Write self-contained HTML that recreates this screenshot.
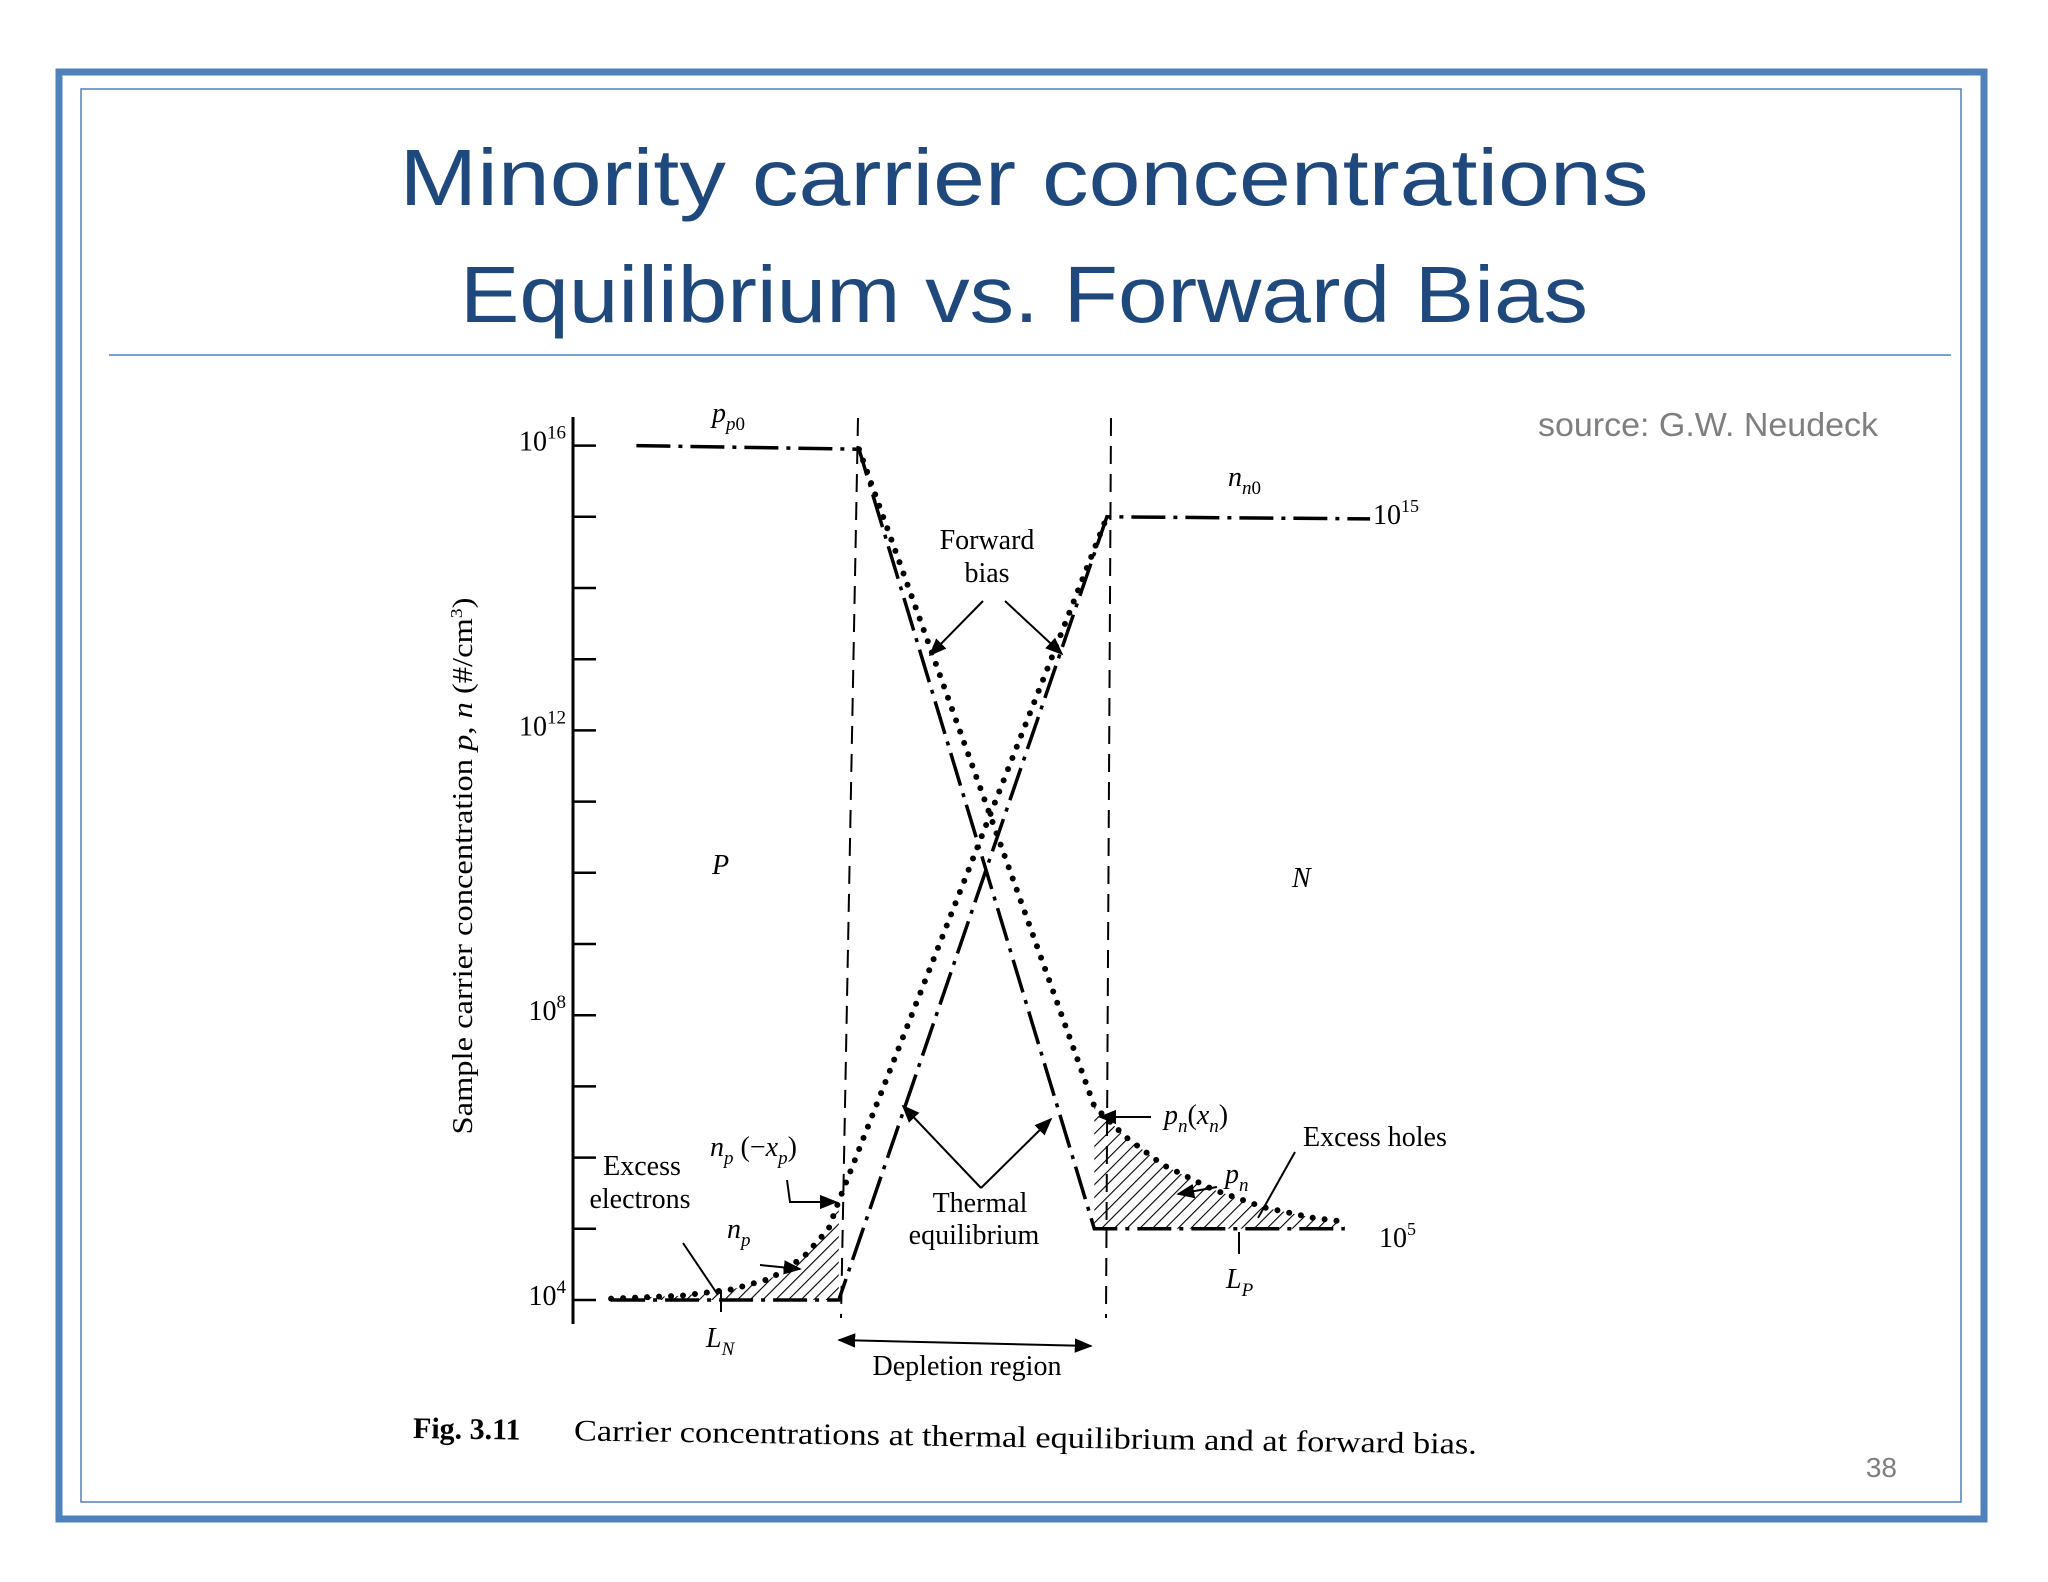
<!DOCTYPE html>
<html><head><meta charset="utf-8">
<style>
html,body{margin:0;padding:0;background:#fff;}
body{width:2048px;height:1582px;position:relative;overflow:hidden;font-family:"Liberation Sans",sans-serif;}
svg{position:absolute;left:0;top:0;}
</style></head>
<body>
<svg width="2048" height="1582" viewBox="0 0 2048 1582">
<defs>
<pattern id="hatch" patternUnits="userSpaceOnUse" width="9" height="9" patternTransform="rotate(45)">
<line x1="0" y1="0" x2="0" y2="9" stroke="#000" stroke-width="2.2"/>
</pattern>
<marker id="ah" viewBox="0 0 10 10" refX="9" refY="5" markerWidth="9" markerHeight="9" orient="auto-start-reverse">
<path d="M0,1 L10,5 L0,9 z" fill="#000"/>
</marker>
</defs>
<rect x="59" y="72" width="1925" height="1447" fill="none" stroke="#4f81bd" stroke-width="7"/>
<rect x="81" y="89" width="1880" height="1413" fill="none" stroke="#4f81bd" stroke-width="1.5"/>
<text x="1024" y="205" text-anchor="middle" font-size="80" fill="#1f497d" textLength="1249" lengthAdjust="spacingAndGlyphs">Minority carrier concentrations</text>
<text x="1024" y="322" text-anchor="middle" font-size="80" fill="#1f497d" textLength="1128" lengthAdjust="spacingAndGlyphs">Equilibrium vs. Forward Bias</text>
<line x1="109" y1="355" x2="1951" y2="355" stroke="#4f81bd" stroke-width="1.5"/>
<text x="1538" y="436" font-size="33" fill="#7f7f7f" textLength="340" lengthAdjust="spacingAndGlyphs">source: G.W. Neudeck</text>
<text x="1897" y="1477" text-anchor="end" font-size="28" fill="#7f7f7f">38</text>
<g id="chart" font-family="'Liberation Serif',serif" fill="#000"></g>
</svg>
<script>
// x positions in units of depletion width (0 = -xp, 1 = xn); values are log10(concentration)
const eqP_x = [-0.88, 0.0, 0.93, 1.92];
const eqP_v = [16, 15.95, 5, 5];
const eqN_x = [-0.98, -0.08, 0.98, 2.02];
const eqN_v = [4, 4, 15, 14.97];
const fbP_x = [0.0, 0.93, 1.05, 1.2, 1.4, 1.6, 1.8, 1.92];
const fbP_v = [15.95, 6.72, 6.3, 5.9, 5.55, 5.3, 5.15, 5.1];
const fbN_x = [-0.98, -0.7, -0.5, -0.35, -0.22, -0.12, -0.08, 0.98];
const fbN_v = [4.02, 4.06, 4.15, 4.3, 4.6, 5.0, 5.39, 15];
const tickDecades = [4,5,6,7,8,9,10,11,12,13,14,15,16];
const tickLabels = [[16,"16"],[12,"12"],[8,"8"],[4,"4"]];

const NS = "http://www.w3.org/2000/svg";
const g = document.getElementById('chart');
const X = u => 859 + u * 253;
const Y = v => 1300 - (v - 4) * 71.2;
function el(tag, attrs, parent) {
  const e = document.createElementNS(NS, tag);
  for (const k in attrs) e.setAttribute(k, attrs[k]);
  (parent || g).appendChild(e);
  return e;
}
function pts(xs, vs) { return xs.map((x, i) => X(x).toFixed(1) + ',' + Y(vs[i]).toFixed(1)).join(' '); }

let a = el('line', {x1: 573, y1: 417, x2: 573, y2: 1324, stroke: '#000', 'stroke-width': 3});


tickDecades.forEach(d => {
  const t = el('line', {x1: 573, y1: Y(d), x2: 596, y2: Y(d), stroke: '#000', 'stroke-width': 2.5});
  
  
});
tickLabels.forEach(([d, s]) => {
  const t = el('text', {x: 566, y: Y(d) + 5, 'text-anchor': 'end', 'font-size': 28});
  
  
  t.innerHTML = '10<tspan dy="-12" font-size="19">' + s + '</tspan>';
});
const yt = el('text', {x: 0, y: 0, 'text-anchor': 'middle', 'font-size': 28, textLength: 537, lengthAdjust: 'spacingAndGlyphs', transform: 'translate(472,866) rotate(-90)'});


yt.innerHTML = 'Sample carrier concentration <tspan font-style="italic">p</tspan>, <tspan font-style="italic">n</tspan> (#/cm<tspan dy="-10" font-size="17">3</tspan><tspan dy="10">)</tspan>';

[0, 1].forEach(u => {
  const l = el('line', {x1: X(u) - 1, y1: 418, x2: X(u) - 18 + u * 12, y2: 1318, stroke: '#000', 'stroke-width': 2, 'stroke-dasharray': '18 10'});
  
  
});

const hL = el('polygon', {points: pts(fbN_x.slice(0, 7), fbN_v.slice(0, 7)) + ' ' + X(-0.08) + ',' + Y(4) + ' ' + X(-0.98) + ',' + Y(4), fill: 'url(#hatch)'});


const hR = el('polygon', {points: pts(fbP_x.slice(1), fbP_v.slice(1)) + ' ' + X(1.92) + ',' + Y(5) + ' ' + X(0.93) + ',' + Y(5), fill: 'url(#hatch)'});



const e1 = el('polyline', {points: pts(eqP_x, eqP_v), fill: 'none', stroke: '#000', 'stroke-width': 3.5, 'stroke-dasharray': '34 8 4 8'});


const e2 = el('polyline', {points: pts(eqN_x, eqN_v), fill: 'none', stroke: '#000', 'stroke-width': 3.5, 'stroke-dasharray': '34 8 4 8'});


const f1 = el('polyline', {points: pts(fbP_x, fbP_v), fill: 'none', stroke: '#000', 'stroke-width': 6, 'stroke-linecap': 'round', 'stroke-dasharray': '0 12'});


const f2 = el('polyline', {points: pts(fbN_x, fbN_v), fill: 'none', stroke: '#000', 'stroke-width': 6, 'stroke-linecap': 'round', 'stroke-dasharray': '0 12'});



function label(x, y, html, name, size, extra) {
  const t = el('text', Object.assign({x: x, y: y, 'font-size': size || 28}, extra || {}));
  
  
  t.innerHTML = html;
  return t;
}
function arrow(x1, y1, x2, y2, name, head) {
  const l = el('line', {x1: x1, y1: y1, x2: x2, y2: y2, stroke: '#000', 'stroke-width': 2});
  if (head !== false) l.setAttribute('marker-end', 'url(#ah)');
  
  
}
label(712, 422, '<tspan font-style="italic">p</tspan><tspan dy="8" font-size="19" font-style="italic">p</tspan><tspan font-size="19">0</tspan>', 'label-pp0');
label(1228, 486, '<tspan font-style="italic">n</tspan><tspan dy="8" font-size="19" font-style="italic">n</tspan><tspan font-size="19">0</tspan>', 'label-nn0');
label(1373, 524, '10<tspan dy="-12" font-size="18">15</tspan>', 'label-1e15');
label(1379, 1247, '10<tspan dy="-12" font-size="18">5</tspan>', 'label-1e5');
label(987, 549, 'Forward', 'label-forward-bias', 28, {'text-anchor': 'middle'});
label(987, 582, 'bias', 'label-forward-bias-2', 28, {'text-anchor': 'middle'});
arrow(983, 601, 930, 655, 'forward-bias-arrow-left');
arrow(1005, 601, 1062, 654, 'forward-bias-arrow-right');
label(712, 874, 'P', 'label-p-region', 28, {'font-style': 'italic'});
label(1292, 887, 'N', 'label-n-region', 28, {'font-style': 'italic'});
label(980, 1212, 'Thermal', 'label-thermal', 28, {'text-anchor': 'middle'});
label(974, 1244, 'equilibrium', 'label-equilibrium', 28, {'text-anchor': 'middle'});
arrow(981, 1188, 903, 1106, 'thermal-arrow-left');
arrow(981, 1188, 1051, 1119, 'thermal-arrow-right');
label(1164, 1124, '<tspan font-style="italic">p</tspan><tspan dy="8" font-size="19" font-style="italic">n</tspan><tspan dy="-8">(</tspan><tspan font-style="italic">x</tspan><tspan dy="8" font-size="19" font-style="italic">n</tspan><tspan dy="-8">)</tspan>', 'label-pn-xn');
arrow(1151, 1117, 1100, 1117, 'pn-xn-arrow');
label(1303, 1146, 'Excess holes', 'label-excess-holes');
arrow(1295, 1152, 1258, 1218, 'excess-holes-line', false);
label(1225, 1183, '<tspan font-style="italic">p</tspan><tspan dy="8" font-size="19" font-style="italic">n</tspan>', 'label-pn');
arrow(1217, 1187, 1178, 1194, 'pn-arrow');
label(1226, 1288, '<tspan font-style="italic">L</tspan><tspan dy="8" font-size="19" font-style="italic">P</tspan>', 'label-lp');
arrow(1239, 1232, 1239, 1254, 'lp-tick', false);
label(642, 1175, 'Excess', 'label-excess-electrons', 28, {'text-anchor': 'middle'});
label(640, 1208, 'electrons', 'label-excess-electrons-2', 28, {'text-anchor': 'middle'});
arrow(683, 1243, 718, 1295, 'excess-electrons-line', false);
label(710, 1156, '<tspan font-style="italic">n</tspan><tspan dy="8" font-size="19" font-style="italic">p</tspan><tspan dy="-8"> (−</tspan><tspan font-style="italic">x</tspan><tspan dy="8" font-size="19" font-style="italic">p</tspan><tspan dy="-8">)</tspan>', 'label-np-xp');
const bent = el('polyline', {points: '787,1180 790,1202 836,1202', fill: 'none', stroke: '#000', 'stroke-width': 2, 'marker-end': 'url(#ah)'});


label(727, 1238, '<tspan font-style="italic">n</tspan><tspan dy="8" font-size="19" font-style="italic">p</tspan>', 'label-np');
arrow(760, 1265, 800, 1269, 'np-arrow');
label(706, 1347, '<tspan font-style="italic">L</tspan><tspan dy="8" font-size="19" font-style="italic">N</tspan>', 'label-ln');
arrow(721, 1290, 721, 1312, 'ln-tick', false);
const dep = el('line', {x1: 839, y1: 1340, x2: 1091, y2: 1346, stroke: '#000', 'stroke-width': 2, 'marker-start': 'url(#ah)', 'marker-end': 'url(#ah)'});


label(967, 1375, 'Depletion region', 'label-depletion-region', 28, {'text-anchor': 'middle'});
const cap = el('g', {transform: 'rotate(0.85 413 1429)'});


const c1 = el('text', {x: 413, y: 1438, 'font-size': 30, 'font-weight': 'bold'}, cap);


c1.textContent = 'Fig. 3.11';
const c2 = el('text', {x: 574, y: 1438, 'font-size': 30, textLength: 903, lengthAdjust: 'spacingAndGlyphs'}, cap);


c2.textContent = 'Carrier concentrations at thermal equilibrium and at forward bias.';
</script>
</body></html>
